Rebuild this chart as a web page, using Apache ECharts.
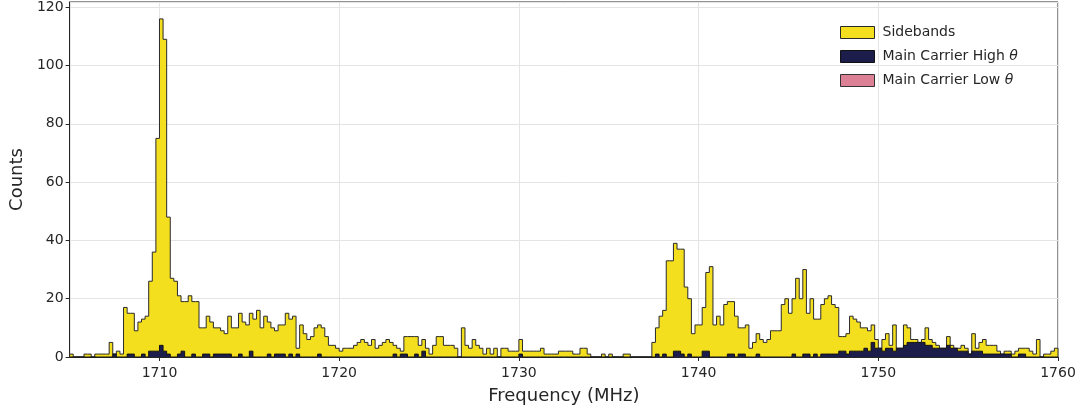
<!DOCTYPE html>
<html>
<head>
<meta charset="utf-8">
<script src="https://cdn.jsdelivr.net/npm/echarts@6/dist/echarts.min.js"></script>
<style>
  html, body { margin: 0; padding: 0; background: #ffffff; }
  #chart { width: 1085px; height: 410px; }
</style>
</head>
<body>
<div id="chart"></div>
<script>
// Histogram binning (MHz)
const binStart = 1705.0;
const binWidth = 0.2;

// Counts per 0.2 MHz bin, 1705–1760 MHz
const sidebandCounts = [
  1,0,0,0,1,1,0,1,1,1,
  1,5,1,2,1,17,15,15,9,12,
  13,14,26,36,75,116,109,48,27,26,
  21,19,19,21,19,19,10,10,14,12,
  10,10,9,8,14,10,10,15,12,11,
  15,13,16,10,14,12,10,9,11,11,
  15,13,14,3,11,8,6,7,10,11,
  10,7,4,4,3,2,3,3,3,4,
  5,6,5,4,6,3,4,5,6,5,
  4,3,2,7,7,7,7,4,6,3,
  1,4,7,7,4,4,4,3,0,10,
  4,3,6,4,3,1,3,1,3,0,
  3,3,2,2,2,6,2,2,2,2,
  2,3,1,1,1,1,2,2,2,2,
  1,1,3,3,1,0,0,0,1,0,
  1,0,0,0,1,1,0,0,0,0,
  0,0,5,10,14,16,33,33,39,37,
  37,24,20,8,11,11,17,29,31,11,
  14,11,18,19,19,14,10,10,11,3,
  5,8,6,5,6,9,9,9,18,20,
  15,20,27,20,30,15,20,13,13,18,
  20,21,18,17,7,7,8,14,13,12,
  10,10,9,11,6,3,6,8,4,11,
  3,3,11,10,6,6,5,6,10,6,
  5,4,3,3,7,4,3,3,4,3,
  1,8,3,5,6,4,4,4,2,1,
  2,2,1,2,3,3,3,2,1,6,
  0,1,1,2,3
];

const highThetaCounts = [
  0,0,0,0,0,0,0,0,0,0,
  0,0,1,0,0,0,1,1,0,0,
  1,0,2,2,2,4,2,1,0,0,
  1,2,0,0,1,0,0,1,1,0,
  1,1,1,1,1,0,0,1,0,0,
  2,0,0,0,0,1,0,1,1,1,
  0,1,0,1,0,0,0,0,0,1,
  0,0,0,0,0,0,0,0,0,0,
  0,0,0,0,0,0,0,0,0,0,
  1,0,1,1,0,0,1,0,2,0,
  0,0,0,0,0,0,0,0,0,0,
  0,0,0,0,0,0,0,0,0,0,
  0,0,0,0,0,1,0,0,0,0,
  0,0,0,0,0,0,0,0,0,0,
  0,0,0,0,0,0,0,0,0,0,
  0,0,0,0,0,0,0,0,0,0,
  0,0,0,1,0,1,0,0,2,2,
  1,0,1,0,0,0,2,2,0,0,
  0,0,0,1,1,0,1,1,0,0,
  0,1,0,0,0,0,0,0,0,0,
  0,1,0,0,1,1,0,1,0,1,
  1,1,1,1,2,2,1,2,2,2,
  2,3,2,5,3,3,2,3,3,2,
  3,3,4,5,5,5,5,5,4,4,
  3,3,3,3,4,3,3,2,2,2,
  1,2,2,2,1,1,1,1,1,1,
  1,1,0,0,1,1,0,0,0,0,
  0,0,0,0,0
];

// No low-θ events fall inside this window
const lowThetaCounts = [];

const seriesNames = ['Sidebands', 'Main Carrier High θ', 'Main Carrier Low θ'];
const fillColors = ['#f4df1f', '#1d1d4c', '#dc8096'];
const edgeColors = ['#2a2a2a', '#111111', '#333333'];

// Turn bin counts into step outline points (left edge of each bin)
function stepPoints(counts) {
  if (!counts.length) return [];
  const pts = [[binStart, 0]];
  counts.forEach((c, i) => pts.push([binStart + i * binWidth, c]));
  const end = binStart + counts.length * binWidth;
  pts.push([end, counts[counts.length - 1]]);
  pts.push([end, 0]);
  return pts;
}

const allCounts = [sidebandCounts, highThetaCounts, lowThetaCounts];

const chart = echarts.init(document.getElementById('chart'), null, { renderer: 'canvas' });

const font = 'DejaVu Sans';

chart.setOption({
  animation: false,
  backgroundColor: '#ffffff',
  grid: {
    left: 68, right: 27, top: 2, bottom: 50.5,
    show: true, borderColor: '#262626', borderWidth: 1
  },
  legend: {
    orient: 'vertical',
    left: 835,
    top: 19.5,
    icon: 'rect',
    itemWidth: 34,
    itemHeight: 12,
    itemGap: 8,
    textStyle: {
      fontFamily: font, fontSize: 14, color: '#262626', lineHeight: 16,
      padding: [0, 0, 0, 3],
      rich: { it: { fontFamily: font, fontSize: 14, fontStyle: 'italic', color: '#262626' } }
    },
    formatter: name => name.replace('θ', '{it|θ}'),
    data: seriesNames.map((n, i) => ({
      name: n,
      itemStyle: { color: fillColors[i], borderColor: edgeColors[i], borderWidth: 1 }
    }))
  },
  xAxis: {
    type: 'value',
    min: 1705,
    max: 1760,
    minInterval: 10,
    maxInterval: 10,
    name: 'Frequency (MHz)',
    nameLocation: 'middle',
    nameGap: 30,
    nameTextStyle: { fontFamily: font, fontSize: 18, color: '#262626' },
    axisLine: { show: true, lineStyle: { color: '#262626', width: 1 } },
    axisTick: { show: true, inside: false, length: 4, lineStyle: { color: '#262626' } },
    axisLabel: {
      fontFamily: font, fontSize: 14, color: '#262626', margin: 9,
      showMinLabel: false,
      formatter: v => String(Math.round(v))
    },
    splitLine: { show: true, lineStyle: { color: '#e4e4e4', width: 1 } }
  },
  yAxis: {
    type: 'value',
    min: 0,
    max: 121.8,
    interval: 20,
    name: 'Counts',
    nameLocation: 'middle',
    nameGap: 40,
    nameTextStyle: { fontFamily: font, fontSize: 18, color: '#262626' },
    axisLine: { show: true, lineStyle: { color: '#262626', width: 1 } },
    axisTick: { show: true, inside: false, length: 4, lineStyle: { color: '#262626' } },
    axisLabel: {
      fontFamily: font, fontSize: 14, color: '#262626', margin: 6,
      showMaxLabel: false
    },
    splitLine: { show: true, lineStyle: { color: '#e4e4e4', width: 1 } }
  },
  series: seriesNames.map((n, i) => ({
    name: n,
    type: 'line',
    step: 'end',
    data: stepPoints(allCounts[i]),
    symbol: 'none',
    showSymbol: false,
    clip: true,
    z: 2 + i,
    itemStyle: { color: fillColors[i] },
    lineStyle: { color: edgeColors[i], width: 1 },
    areaStyle: { color: fillColors[i], opacity: 1 },
    emphasis: { disabled: true }
  }))
});
</script>
</body>
</html>
